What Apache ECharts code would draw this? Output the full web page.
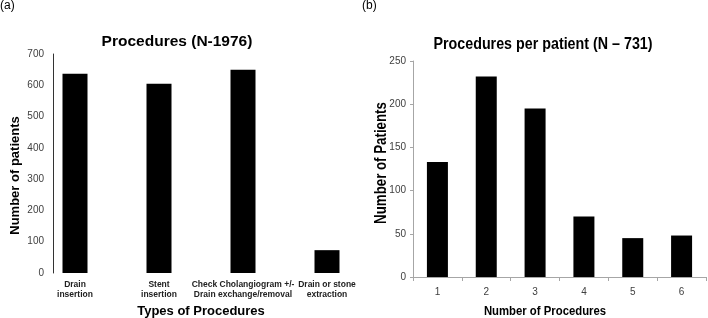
<!DOCTYPE html>
<html>
<head>
<meta charset="utf-8">
<script src="https://cdn.jsdelivr.net/npm/echarts@6/dist/echarts.min.js"></script>
<style>
  html, body { margin: 0; padding: 0; background: #fff; }
  #main { width: 708px; height: 318px; }
</style>
</head>
<body>
<div id="main"></div>
<script>
// (a) procedure types
var typeCategories = ['Drain\ninsertion', 'Stent\ninsertion', 'Check Cholangiogram +/-\nDrain exchange/removal', 'Drain or stone\nextraction'];
var typeCounts = [637, 605, 650, 73];
var typeTicks = [0, 100, 200, 300, 400, 500, 600, 700];

// (b) procedures per patient
var perPatientCategories = ['1', '2', '3', '4', '5', '6'];
var perPatientCounts = [133, 232, 195, 70, 45, 48];
var perPatientTicks = [0, 50, 100, 150, 200, 250];

var myChart = echarts.init(document.getElementById('main'), null, {renderer: 'canvas'});

var sans = 'Liberation Sans, Arial, sans-serif';

// right panel text is condensed in the original, so squeeze it with scaleX
var option = {
    backgroundColor: '#fff',
    animation: false,
    title: [
        {
            text: 'Procedures (N-1976)',
            left: 177, top: 34, padding: 0,
            textAlign: 'center',
            textStyle: {fontFamily: sans, fontWeight: 'bold', fontSize: 15.5, color: '#000'}
        }
    ],
    graphic: [
        {type: 'text', left: 0, top: 0, style: {text: '(a)', font: '12px ' + sans, fill: '#000'}},
        {type: 'text', left: 362, top: 0, style: {text: '(b)', font: '12px ' + sans, fill: '#000'}},
        {
            type: 'text', x: 543, y: 44, scaleX: 0.84,
            style: {text: 'Procedures per patient (N \u2013 731)', font: 'bold 17px ' + sans, fill: '#000',
                    align: 'center', verticalAlign: 'middle'}
        },
        {
            type: 'text', x: 545, y: 311, scaleX: 0.84,
            style: {text: 'Number of Procedures', font: 'bold 13.5px ' + sans, fill: '#000',
                    align: 'center', verticalAlign: 'middle'}
        },
        {
            type: 'text', x: 382, y: 163, scaleX: 0.83, rotation: Math.PI / 2,
            style: {text: 'Number of Patients', font: 'bold 16px ' + sans, fill: '#000',
                    align: 'center', verticalAlign: 'middle'}
        }
    ],
    grid: [
        {left: 75, width: 252, top: 54, height: 219, outerBoundsMode: 'none'},
        {left: 413, width: 293, top: 61, height: 216, outerBoundsMode: 'none'}
    ],
    xAxis: [
        {
            type: 'category', gridIndex: 0,
            data: typeCategories,
            boundaryGap: false,
            axisLine: {show: false},
            axisTick: {show: false},
            axisLabel: {
                interval: 0, margin: 7,
                fontFamily: sans, fontWeight: 'bold', fontSize: 8.5, lineHeight: 10, color: '#222'
            },
            name: 'Types of Procedures',
            nameLocation: 'middle', nameGap: 32,
            nameTextStyle: {fontFamily: sans, fontWeight: 'bold', fontSize: 13, color: '#000'}
        },
        {
            type: 'category', gridIndex: 1,
            data: perPatientCategories,
            axisLine: {lineStyle: {color: '#a6a6a6', width: 1}},
            axisTick: {show: true, length: 4, lineStyle: {color: '#a6a6a6'}},
            axisLabel: {margin: 10, fontFamily: sans, fontSize: 10, color: '#404040'}
        }
    ],
    yAxis: [
        {
            type: 'value', gridIndex: 0,
            min: typeTicks[0], max: typeTicks[typeTicks.length - 1], interval: 100,
            offset: 22,
            axisLine: {show: true, lineStyle: {color: '#333', width: 1}},
            axisTick: {show: false},
            splitLine: {show: false},
            axisLabel: {margin: 9, fontFamily: sans, fontSize: 10, color: '#404040'},
            name: 'Number of patients',
            nameLocation: 'middle', nameGap: 31,
            nameTextStyle: {fontFamily: sans, fontWeight: 'bold', fontSize: 13, color: '#000', padding: [0, 24, 0, 0]}
        },
        {
            type: 'value', gridIndex: 1,
            min: perPatientTicks[0], max: perPatientTicks[perPatientTicks.length - 1], interval: 50,
            axisLine: {show: true, lineStyle: {color: '#a6a6a6', width: 1}},
            axisTick: {show: true, length: 3, lineStyle: {color: '#a6a6a6'}},
            splitLine: {show: false},
            axisLabel: {margin: 7, fontFamily: sans, fontSize: 10, color: '#404040'}
        }
    ],
    series: [
        {
            name: 'Procedures', type: 'bar',
            xAxisIndex: 0, yAxisIndex: 0,
            barWidth: 25,
            itemStyle: {color: '#000'},
            data: typeCounts
        },
        {
            name: 'Procedures per patient', type: 'bar',
            xAxisIndex: 1, yAxisIndex: 1,
            barWidth: 21,
            itemStyle: {color: '#000'},
            data: perPatientCounts
        }
    ]
};

myChart.setOption(option);
</script>
</body>
</html>
